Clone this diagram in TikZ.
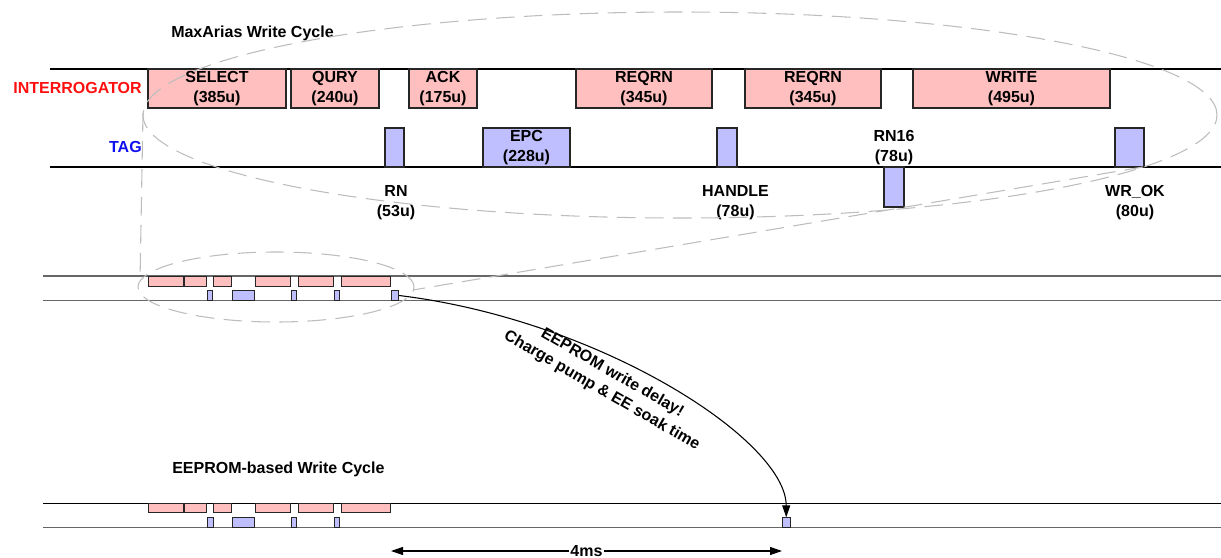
\documentclass[tikz,border=0pt]{standalone}
\usepackage{fontspec}
\setmainfont{Liberation Sans}
\usetikzlibrary{arrows.meta,fit,shapes.geometric}
\definecolor{ipink}{HTML}{FFBFBF}
\definecolor{tlav}{HTML}{BFBFFF}
\definecolor{elgray}{HTML}{BDBDBD}
\definecolor{tlgray}{HTML}{666666}
\definecolor{lblred}{HTML}{FF1010}
\definecolor{lblblue}{HTML}{1010F0}
\begin{document}
\begin{tikzpicture}[x=0.75pt,y=-0.75pt,
  txt/.style={font=\bfseries\fontsize{12}{15.5}\selectfont, align=center, inner sep=0pt},
  ibox/.style={draw=black!85, fill=ipink, line width=0.8pt, inner sep=0pt, txt, minimum height=29.25pt},
  tbox/.style={draw=black!85, fill=tlav, line width=0.8pt, inner sep=0pt, txt},
  sbox/.style={draw=black!85, line width=0.6pt, inner sep=0pt},
  tline/.style={line width=1pt, draw=black},
  sline/.style={line width=0.9pt, draw=tlgray},
  zoomline/.style={draw=elgray, line width=0.8pt, dash pattern=on 14pt off 7pt},
  arr/.style={line width=0.8pt, -{Triangle[length=9pt,width=6pt]}},
  darr/.style={line width=0.8pt, {Triangle[length=9pt,width=6pt]}-{Triangle[length=9pt,width=6pt]}}
]
\useasboundingbox (0,0) rectangle (1221,557);

% ---------- big timeline ----------
\draw[tline] (50,69) -- (1221,69);
\draw[tline] (50,167) -- (1221,167);

\node[txt, anchor=west] (title1) at (171,33) {MaxArias Write Cycle};
\node[txt, anchor=east, text=lblred] (lint) at (142,88) {INTERROGATOR};
\node[txt, anchor=east, text=lblblue] (ltag) at (142,147) {TAG};

\node[ibox, minimum width=103.5pt] (sel) at (217,88.5) {SELECT\\(385u)};
\node[ibox, minimum width=66pt] (qry) at (335,88.5) {QURY\\(240u)};
\node[ibox, minimum width=51pt] (ack) at (443,88.5) {ACK\\(175u)};
\node[ibox, minimum width=102pt] (rq1) at (644,88.5) {REQRN\\(345u)};
\node[ibox, minimum width=102pt] (rq2) at (813,88.5) {REQRN\\(345u)};
\node[ibox, minimum width=147.75pt] (wr) at (1011.5,88.5) {WRITE\\(495u)};

\node[tbox, fit={(385,128)(404,167)}] (rn) {};
\node[tbox, minimum width=65.25pt, minimum height=29.25pt] (epc) at (526.5,147.5) {EPC\\(228u)};
\node[tbox, fit={(717,128)(737,167)}] (hdl) {};
\node[tbox, fit={(884,167)(904,207)}] (rn16) {};
\node[tbox, fit={(1115,128)(1144,167)}] (wrok) {};

\node[txt] (lrn) at (396,202.5) {RN\\(53u)};
\node[txt] (lhdl) at (735.5,202.5) {HANDLE\\(78u)};
\node[txt] (lrn16) at (894,147.5) {RN16\\(78u)};
\node[txt] (lwrok) at (1135,202.5) {WR\_OK\\(80u)};

% ---------- small timeline ----------
\draw[sline] (43,276) -- (1221,276);
\draw[sline] (43,300.7) -- (1221,300.7);
\node[sbox, fill=ipink, fit={(148.3,276)(183.3,286)}] (s1) {};
\node[sbox, fill=ipink, fit={(184.3,276)(206.7,286)}] (s2) {};
\node[sbox, fill=ipink, fit={(213.7,276)(231.3,286)}] (s3) {};
\node[sbox, fill=ipink, fit={(255.7,276)(290.3,286)}] (s4) {};
\node[sbox, fill=ipink, fit={(298.7,276)(333.3,286)}] (s5) {};
\node[sbox, fill=ipink, fit={(341.3,276)(390.3,286)}] (s6) {};
\node[sbox, fill=tlav, fit={(207.3,290.3)(212.7,300.7)}] (st1) {};
\node[sbox, fill=tlav, fit={(232.3,290.3)(254.7,300.7)}] (st2) {};
\node[sbox, fill=tlav, fit={(291.3,290.3)(296.7,300.7)}] (st3) {};
\node[sbox, fill=tlav, fit={(334.3,290.3)(339.7,300.7)}] (st4) {};
\node[sbox, fill=tlav, fit={(391.3,290.3)(398.7,300.7)}] (st5) {};

% ---------- bottom timeline ----------
\node[txt, anchor=west] (title2) at (172,469) {EEPROM-based Write Cycle};
\draw[tline] (43,503.3) -- (1221,503.3);
\draw[sline] (43,527.7) -- (1221,527.7);
\node[sbox, fill=ipink, fit={(148,503.3)(183,512.7)}] (b1) {};
\node[sbox, fill=ipink, fit={(184.7,503.3)(206.6,512.7)}] (b2) {};
\node[sbox, fill=ipink, fit={(213.7,503.3)(231.6,512.7)}] (b3) {};
\node[sbox, fill=ipink, fit={(255.7,503.3)(290.5,512.7)}] (b4) {};
\node[sbox, fill=ipink, fit={(298.6,503.3)(333.4,512.7)}] (b5) {};
\node[sbox, fill=ipink, fit={(341.4,503.3)(390.5,512.7)}] (b6) {};
\node[sbox, fill=tlav, fit={(207.5,517.7)(212.9,527.7)}] (bt1) {};
\node[sbox, fill=tlav, fit={(232.5,517.7)(254.4,527.7)}] (bt2) {};
\node[sbox, fill=tlav, fit={(291.4,517.7)(296.3,527.7)}] (bt3) {};
\node[sbox, fill=tlav, fit={(334.3,517.7)(339.6,527.7)}] (bt4) {};
\node[sbox, fill=tlav, fit={(782.5,517.7)(790,527.7)}] (bt5) {};

% ---------- zoom ellipses ----------
\node[zoomline, ellipse, minimum width=805.5pt, minimum height=154.5pt, inner sep=0pt] (bigell) at (680,115) {};
\node[zoomline, ellipse, minimum width=207pt, minimum height=52.5pt, inner sep=0pt] (smell) at (276,287) {};
\coordinate (zl1) at (143,113);
\coordinate (zl2) at (140,281);
\coordinate (zr1) at (1143,167);
\coordinate (zr2) at (413,290);
\draw[zoomline] (zl1) -- (zl2);
\draw[zoomline] (zr1) -- (zr2);

% ---------- delay arrow ----------
\draw[arr] (st5.east) .. controls (600,320) and (786,440) .. (bt5.north);
\node[txt, rotate=-30] (note) at (607,382) {EEPROM write delay!\\Charge pump \& EE soak time};

\coordinate (d1) at (391,551);
\coordinate (d2) at (782,551);
\draw[darr] (d1) -- (d2) node[pos=0.5, txt, fill=white, inner xsep=1pt] (lms) {4ms};
\end{tikzpicture}
\end{document}
